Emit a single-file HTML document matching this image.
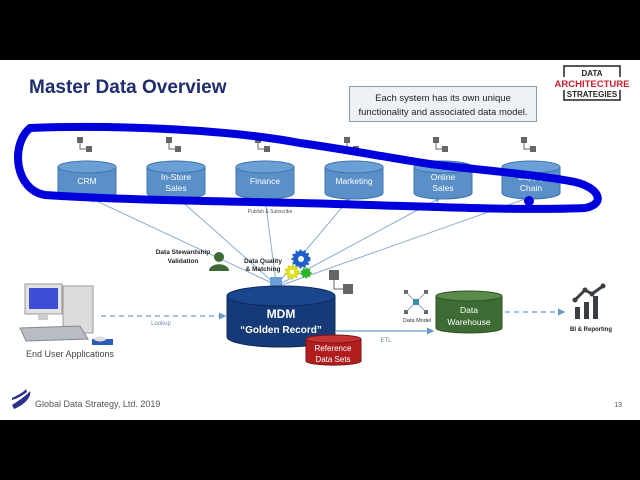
<!DOCTYPE html>
<html><head><meta charset="utf-8"><style>
html,body{margin:0;padding:0;background:#000;width:640px;height:480px;overflow:hidden}
svg{display:block;font-family:"Liberation Sans",sans-serif}
</style></head><body>
<svg width="640" height="480" viewBox="0 0 640 480">
<defs>
<marker id="ar" markerWidth="6" markerHeight="6" refX="5" refY="3" orient="auto"><path d="M0,0L6,3L0,6z" fill="#6a9cc8"/></marker>
<marker id="ar2" markerWidth="6" markerHeight="6" refX="5" refY="3" orient="auto"><path d="M0,0L6,3L0,6z" fill="#8aaed0"/></marker>
</defs>
<rect x="0" y="0" width="640" height="60" fill="#000"/>
<rect x="0" y="60" width="640" height="360" fill="#fff"/>
<text x="29" y="93" font-size="19" font-weight="bold" fill="#1f2c6f">Master Data Overview</text>
<path d="M564,77V66H620V77" fill="none" stroke="#222" stroke-width="1.5"/>
<path d="M564,90V100H620V90" fill="none" stroke="#222" stroke-width="1.5"/>
<text x="592" y="76" font-size="8" font-weight="bold" text-anchor="middle" fill="#222">DATA</text>
<text x="592" y="87" font-size="9.5" font-weight="bold" text-anchor="middle" fill="#c8202f">ARCHITECTURE</text>
<text x="592" y="97" font-size="8" font-weight="bold" text-anchor="middle" fill="#222">STRATEGIES</text>
<rect x="349.5" y="86.5" width="187" height="35" fill="#eef2f7" stroke="#8a9bb0"/>
<text x="443" y="101" font-size="9.5" text-anchor="middle" fill="#222">Each system has its own unique</text>
<text x="443" y="115" font-size="9.5" text-anchor="middle" fill="#222">functionality and associated data model.</text>
<g stroke="#8aaed0" stroke-width="1" marker-end="url(#ar2)">
<line x1="272" y1="283" x2="90" y2="198"/>
<line x1="274" y1="283" x2="178" y2="198"/>
<line x1="276" y1="283" x2="265" y2="198"/>
<line x1="278" y1="283" x2="350" y2="198"/>
<line x1="280" y1="284" x2="440" y2="198"/>
<line x1="282" y1="285" x2="528" y2="198"/>
</g>
<text x="270" y="213" font-size="5" fill="#555" text-anchor="middle">Publish &amp; Subscribe</text>
<g>
<path d="M58,167V193A29,6 0 0 0 116,193V167" fill="#5b8fc7" stroke="#3f74ad"/><ellipse cx="87" cy="167" rx="29" ry="6" fill="#6aa0d6" stroke="#3f74ad"/>
<path d="M147,167V193A29,6 0 0 0 205,193V167" fill="#5b8fc7" stroke="#3f74ad"/><ellipse cx="176" cy="167" rx="29" ry="6" fill="#6aa0d6" stroke="#3f74ad"/>
<path d="M236,167V193A29,6 0 0 0 294,193V167" fill="#5b8fc7" stroke="#3f74ad"/><ellipse cx="265" cy="167" rx="29" ry="6" fill="#6aa0d6" stroke="#3f74ad"/>
<path d="M325,167V193A29,6 0 0 0 383,193V167" fill="#5b8fc7" stroke="#3f74ad"/><ellipse cx="354" cy="167" rx="29" ry="6" fill="#6aa0d6" stroke="#3f74ad"/>
<path d="M414,167V193A29,6 0 0 0 472,193V167" fill="#5b8fc7" stroke="#3f74ad"/><ellipse cx="443" cy="167" rx="29" ry="6" fill="#6aa0d6" stroke="#3f74ad"/>
<path d="M502,167V193A29,6 0 0 0 560,193V167" fill="#5b8fc7" stroke="#3f74ad"/><ellipse cx="531" cy="167" rx="29" ry="6" fill="#6aa0d6" stroke="#3f74ad"/>
</g>
<g font-size="8.5" fill="#fff" text-anchor="middle">
<text x="87" y="184">CRM</text>
<text x="176" y="180">In-Store</text><text x="176" y="191">Sales</text>
<text x="265" y="184">Finance</text>
<text x="354" y="184">Marketing</text>
<text x="443" y="180">Online</text><text x="443" y="191">Sales</text>
<text x="531" y="180">Supply</text><text x="531" y="191">Chain</text>
</g>
<g fill="#666" stroke="none">
<g transform="translate(77,137)"><rect width="6" height="6"/><rect x="9" y="9" width="6" height="6"/><path d="M3,6V12H9" stroke="#666" fill="none"/></g>
<g transform="translate(166,137)"><rect width="6" height="6"/><rect x="9" y="9" width="6" height="6"/><path d="M3,6V12H9" stroke="#666" fill="none"/></g>
<g transform="translate(255,137)"><rect width="6" height="6"/><rect x="9" y="9" width="6" height="6"/><path d="M3,6V12H9" stroke="#666" fill="none"/></g>
<g transform="translate(344,137)"><rect width="6" height="6"/><rect x="9" y="9" width="6" height="6"/><path d="M3,6V12H9" stroke="#666" fill="none"/></g>
<g transform="translate(433,137)"><rect width="6" height="6"/><rect x="9" y="9" width="6" height="6"/><path d="M3,6V12H9" stroke="#666" fill="none"/></g>
<g transform="translate(521,137)"><rect width="6" height="6"/><rect x="9" y="9" width="6" height="6"/><path d="M3,6V12H9" stroke="#666" fill="none"/></g>
<g transform="translate(329,270)"><rect width="10" height="10"/><rect x="14" y="14" width="10" height="10"/><path d="M5,10V19H14" stroke="#666" fill="none"/></g>
</g>
<!-- blue marker loop -->
<path d="M30,128 C100,125 220,128 300,143 C350,150 390,158 430,164 C480,170 540,175 575,182 C600,188 606,204 585,208 C520,211 420,206 300,203 C200,201 100,199 45,195 C15,190 10,145 30,128 Z" fill="none" stroke="#0000dd" stroke-width="8" stroke-linejoin="round"/>
<circle cx="529" cy="201" r="5" fill="#0000dd"/>
<circle cx="219" cy="257" r="5" fill="#3e6b34"/>
<path d="M209,271C209,262 229,262 229,271Z" fill="#3e6b34"/>
<text x="183" y="254" font-size="6.5" font-weight="bold" text-anchor="middle" fill="#222">Data Stewardship</text>
<text x="183" y="263" font-size="6.5" font-weight="bold" text-anchor="middle" fill="#222">Validation</text>
<text x="263" y="263" font-size="6.5" font-weight="bold" text-anchor="middle" fill="#222">Data Quality</text>
<text x="263" y="271" font-size="6.5" font-weight="bold" text-anchor="middle" fill="#222">&amp; Matching</text>
<circle cx="301" cy="259" r="8" fill="#1d5fc9" stroke="#1d5fc9" stroke-width="3" stroke-dasharray="2 2"/><circle cx="301" cy="259" r="3" fill="#fff"/>
<circle cx="292" cy="272" r="6" fill="#e3e325" stroke="#d6d61f" stroke-width="3" stroke-dasharray="2 2"/><circle cx="292" cy="272" r="2" fill="#fff"/>
<circle cx="306" cy="273" r="4.5" fill="#2bb52b" stroke="#2bb52b" stroke-width="2" stroke-dasharray="1.5 1.5"/>
<rect x="270" y="277" width="12" height="10" fill="#6aa0d6"/>
<path d="M227,296V337A54,10 0 0 0 335,337V296" fill="#163a78" stroke="#0e2a5c"/>
<ellipse cx="281" cy="296" rx="54" ry="10" fill="#1a468e" stroke="#0e2a5c"/>
<text x="281" y="318" font-size="12" font-weight="bold" fill="#fff" text-anchor="middle">MDM</text>
<text x="281" y="333" font-size="10" font-weight="bold" fill="#fff" text-anchor="middle">“Golden Record”</text>
<path d="M306,339V361A27,4 0 0 0 361,361V339" fill="#b21e1e" stroke="#7a1212"/>
<ellipse cx="333.5" cy="339" rx="27.5" ry="4" fill="#c43232" stroke="#7a1212"/>
<text x="333" y="351" font-size="8" fill="#fff" text-anchor="middle">Reference</text>
<text x="333" y="362" font-size="8" fill="#fff" text-anchor="middle">Data Sets</text>
<path d="M436,296V328A33,5 0 0 0 502,328V296" fill="#3e6b34" stroke="#2c5022"/>
<ellipse cx="469" cy="296" rx="33" ry="5" fill="#5a8a4c" stroke="#2c5022"/>
<text x="469" y="313" font-size="8.5" fill="#fff" text-anchor="middle">Data</text>
<text x="469" y="325" font-size="8.5" fill="#fff" text-anchor="middle">Warehouse</text>
<g fill="#666"><rect x="404" y="290" width="4" height="4"/><rect x="424" y="290" width="4" height="4"/><rect x="404" y="310" width="4" height="4"/><rect x="424" y="310" width="4" height="4"/></g>
<path d="M406,292L426,312M426,292L406,312" stroke="#888" stroke-width="0.8"/>
<rect x="413" y="299" width="6" height="6" fill="#3a8cb0"/>
<text x="417" y="322" font-size="5.5" text-anchor="middle" fill="#333">Data Model</text>
<line x1="101" y1="316" x2="225" y2="316" stroke="#6a9cc8" stroke-width="1.2" stroke-dasharray="5 4" marker-end="url(#ar)"/>
<text x="161" y="325" font-size="6" fill="#6a8aa8" text-anchor="middle">Lookup</text>
<line x1="336" y1="331" x2="433" y2="331" stroke="#6a9cc8" stroke-width="1.2" marker-end="url(#ar)"/>
<text x="386" y="342" font-size="6" fill="#6a8aa8" text-anchor="middle">ETL</text>
<line x1="505" y1="312" x2="564" y2="312" stroke="#6a9cc8" stroke-width="1.2" stroke-dasharray="5 4" marker-end="url(#ar)"/>
<g fill="#3a3d42"><rect x="575" y="307" width="5" height="12"/><rect x="584" y="302" width="5" height="17"/><rect x="593" y="296" width="5" height="23"/></g>
<path d="M575,300L585,290L592,294L603,286" stroke="#3a3d42" stroke-width="3" fill="none"/>
<g fill="#3a3d42"><circle cx="575" cy="300" r="2.5"/><circle cx="585" cy="290" r="2.5"/><circle cx="592" cy="294" r="2.5"/><circle cx="603" cy="286" r="2.5"/></g>
<text x="591" y="331" font-size="6" font-weight="bold" text-anchor="middle" fill="#222">BI &amp; Reporting</text>
<rect x="63" y="286" width="30" height="47" fill="#dcdcdc" stroke="#999"/>
<rect x="25" y="284" width="37" height="30" fill="#e3e3e3" stroke="#999"/>
<rect x="29" y="288" width="29" height="21" fill="#3c4ed6"/>
<rect x="38" y="314" width="10" height="6" fill="#ccc"/>
<path d="M20,328L80,326L88,339L26,341Z" fill="#b8bcc4" stroke="#888"/>
<rect x="92" y="339" width="21" height="6" fill="#2c5ab8"/>
<ellipse cx="100" cy="339" rx="6" ry="2.5" fill="#ddd"/>
<text x="70" y="357" font-size="9" text-anchor="middle" fill="#444">End User Applications</text>
<path d="M12,405C20,400 28,394 30,391C32,397 24,405 14,409Z" fill="#2a2f8a"/>
<path d="M12,398C18,395 24,392 26,389L27,392C22,396 16,399 12,400Z" fill="#2a2f8a"/>
<text x="35" y="407" font-size="9" fill="#555">Global Data Strategy, Ltd. 2019</text>
<text x="622" y="407" font-size="7" fill="#555" text-anchor="end">13</text>
<rect x="0" y="420" width="640" height="60" fill="#000"/>
</svg>
</body></html>
